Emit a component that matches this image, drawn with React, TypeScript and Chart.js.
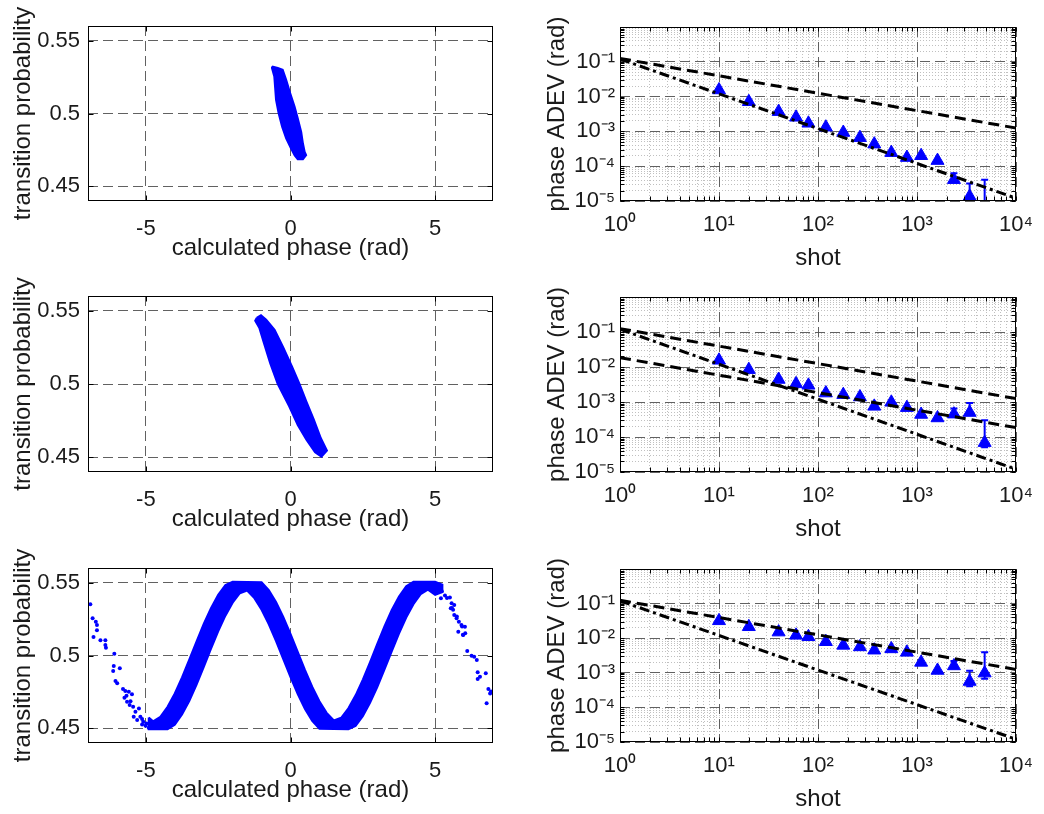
import React, { useEffect, useRef } from 'react';
import { Chart, registerables } from 'chart.js';

Chart.register(...registerables);

const W = 1044;
const H = 814;
const FONT_FAMILY = "'Liberation Sans', Arial, Helvetica, sans-serif";
const TICK_FONT = { family: FONT_FAMILY, size: 22 };
const TITLE_FONT = { family: FONT_FAMILY, size: 24 };
const TEXT = '#1a1a1a';
const BLUE = '#0000ff';
const GRID_MAJOR = 'rgba(80,80,80,0.9)';
const GRID_MINOR = 'rgba(150,150,150,0.6)';
const MAJOR_DASH = [10, 5];
const MINOR_DASH = [1, 2];

// ---------- left column: axes ----------
const phaseRange = [-7, 7];
const probRange = [0.44, 0.56];
const phaseTicks = [-5, 0, 5];
const probTicks = [0.45, 0.5, 0.55];

// ---------- right column: axes ----------
const shotRange = [1, 10000];
const adevRange = [1e-5, 1];
const shotMajorTicks = [1, 10, 100, 1000, 10000];
const adevMajorTicks = [1e-5, 1e-4, 1e-3, 1e-2, 1e-1];
const minorMultipliers = [2, 3, 4, 5, 6, 7, 8, 9];
const shotDecades = [1, 10, 100, 1000];
const adevDecades = [1e-5, 1e-4, 1e-3, 1e-2, 1e-1];
const shotMinorTicks = shotDecades.flatMap((d) => minorMultipliers.map((m) => m * d));
const adevMinorTicks = adevDecades.flatMap((d) => minorMultipliers.map((m) => m * d));

// ---------- left column: scatter clouds (outlines) ----------
const cloudTop: [number, number][] = [
  [-0.64, 0.5323], [-0.44, 0.5312], [-0.27, 0.530], [-0.15, 0.5231], [-0.01, 0.5139],
  [0.14, 0.5047], [0.25, 0.4967], [0.37, 0.4874], [0.43, 0.4794], [0.49, 0.4737],
  [0.54, 0.4714], [0.43, 0.4686], [0.25, 0.4686], [0.14, 0.4714], [0.02, 0.476],
  [-0.15, 0.4829], [-0.29, 0.4909], [-0.41, 0.5001], [-0.50, 0.5093], [-0.53, 0.5174],
  [-0.56, 0.5254], [-0.64, 0.5312],
];

const cloudMid: [number, number][] = [
  [-1.17, 0.5451], [-1.02, 0.5469], [-0.84, 0.5439], [-0.55, 0.537], [-0.25, 0.525],
  [0.05, 0.512], [0.31, 0.5], [0.55, 0.488], [0.8, 0.476], [1.05, 0.463],
  [1.26, 0.4546], [1.07, 0.4505], [0.85, 0.4535], [0.55, 0.462], [0.25, 0.472],
  [-0.05, 0.485], [-0.44, 0.5], [-0.7, 0.514], [-0.92, 0.528], [-1.08, 0.5383],
  [-1.22, 0.5432],
];

// bottom-left: dense band, upper edge left->right
const bandUpper: [number, number][] = [
  [-4.9, 0.4575], [-4.75, 0.4549], [-4.5, 0.458], [-4.25, 0.4648], [-4.0, 0.474],
  [-3.75, 0.485], [-3.5, 0.4971], [-3.25, 0.5096], [-3.0, 0.5216], [-2.75, 0.5325],
  [-2.5, 0.5416], [-2.25, 0.5483], [-2.0, 0.5505], [-1.0, 0.5503], [-0.75, 0.5448],
  [-0.5, 0.5367], [-0.25, 0.5265], [0, 0.5149], [0.25, 0.5025], [0.5, 0.4901],
  [0.75, 0.4786], [1.0, 0.4686], [1.25, 0.4607], [1.5, 0.4554], [1.75, 0.4573],
  [2.0, 0.4638], [2.25, 0.4727], [2.5, 0.4835], [2.75, 0.4954], [3.0, 0.5079],
  [3.25, 0.5201], [3.5, 0.5312], [3.75, 0.5405], [4.0, 0.5475], [4.25, 0.5505],
  [5.0, 0.5505], [5.25, 0.5485],
];
// lower edge right->left
const bandLower: [number, number][] = [
  [5.25, 0.5435], [5.0, 0.5415], [4.75, 0.5451], [4.5, 0.542], [4.25, 0.5352],
  [4.0, 0.526], [3.75, 0.515], [3.5, 0.5029], [3.25, 0.4904], [3.0, 0.4784],
  [2.75, 0.4675], [2.5, 0.4584], [2.25, 0.4517], [2.0, 0.4495], [1.0, 0.4497],
  [0.75, 0.4552], [0.5, 0.4633], [0.25, 0.4735], [0, 0.4851], [-0.25, 0.4975],
  [-0.5, 0.5099], [-0.75, 0.5214], [-1.0, 0.5314], [-1.25, 0.5393], [-1.5, 0.5446],
  [-1.75, 0.5427], [-2.0, 0.5362], [-2.25, 0.5273], [-2.5, 0.5165], [-2.75, 0.5046],
  [-3.0, 0.4921], [-3.25, 0.4799], [-3.5, 0.4688], [-3.75, 0.4595], [-4.0, 0.4525],
  [-4.25, 0.4495], [-4.9, 0.4495],
];

const strayLeft: [number, number][] = [
  [-6.92, 0.5352], [-6.84, 0.5256], [-6.73, 0.5232], [-6.69, 0.521], [-6.69, 0.5173],
  [-6.81, 0.5127], [-6.57, 0.5104], [-6.4, 0.5104], [-6.4, 0.5072], [-6.38, 0.5054],
  [-6.09, 0.5012], [-6.11, 0.4928], [-5.9, 0.4912], [-6.13, 0.4894], [-6.05, 0.4825],
  [-5.99, 0.4809], [-5.79, 0.477], [-5.71, 0.4756], [-5.48, 0.4734], [-5.74, 0.471],
  [-5.65, 0.4683], [-5.56, 0.466], [-5.44, 0.4648], [-5.36, 0.4614], [-5.24, 0.4637],
  [-5.19, 0.458], [-5.3, 0.4557], [-5.09, 0.4545], [-5.13, 0.4527], [-5.01, 0.4518],
  [-4.9, 0.4504], [-5.42, 0.458], [-5.13, 0.4564], [-4.98, 0.4534], [-5.53, 0.4687],
  [-5.67, 0.4724], [-5.59, 0.4751],
];

const strayRight: [number, number][] = [
  [5.2, 0.5393], [5.34, 0.5411], [5.51, 0.5397], [5.57, 0.5358], [5.66, 0.5347],
  [5.62, 0.5313], [5.54, 0.5324], [5.66, 0.5278], [5.74, 0.5255], [5.82, 0.5232],
  [5.91, 0.5209], [6.03, 0.5198], [5.8, 0.5163], [5.97, 0.5141], [6.11, 0.5031],
  [6.26, 0.4999], [6.35, 0.4992], [6.44, 0.4969], [6.47, 0.4885], [6.75, 0.4878],
  [6.55, 0.4855], [6.47, 0.4839], [6.84, 0.477], [6.9, 0.474], [6.78, 0.4672],
  [5.23, 0.544], [5.41, 0.5394], [5.58, 0.5325], [5.75, 0.5268], [5.93, 0.5199],
  [6.04, 0.5153], [5.96, 0.5142], [6.93, 0.4753],
];

// ---------- right column: Allan deviation ----------
const shots = [10, 20, 40, 60, 80, 120, 180, 265, 370, 550, 790, 1100, 1610, 2360, 3400, 4820];
const adevTop = [0.0155, 0.0071, 0.0037, 0.00254, 0.00171, 0.00132, 0.00093, 0.00066, 0.00043, 0.000245, 0.000177, 0.0002, 0.000145, 0.000041, 0.0000135, 0.000005];
const errHiTop = [null, null, null, null, null, null, null, null, null, null, null, null, null, 0.000063, 0.000032, 0.000041];
const errLoTop = [null, null, null, null, null, null, null, null, null, null, null, null, null, null, null, 0.000003];
const adevMid = [0.0155, 0.0084, 0.0044, 0.0033, 0.003, 0.0018, 0.00162, 0.00139, 0.00075, 0.00098, 0.00069, 0.00044, 0.00035, 0.00045, 0.0005, 0.000069];
const errHiMid = [null, null, null, null, null, null, null, null, null, null, null, null, null, 0.00065, 0.00093, 0.0003];
const errLoMid = [null, null, null, null, null, null, null, null, null, null, null, null, null, null, null, 0.000051];
const adevBot = [0.0318, 0.0214, 0.015, 0.0121, 0.011, 0.0079, 0.0062, 0.0056, 0.0045, 0.0049, 0.0039, 0.002, 0.00117, 0.00158, 0.00056, 0.00098];
const errHiBot = [null, null, null, null, null, null, null, null, null, null, null, null, null, 0.0022, 0.00115, 0.0039];
const errLoBot = [null, null, null, null, null, null, null, null, null, null, null, null, null, null, 0.00041, 0.00067];

const guideShots = [1, 10000];
const shotNoiseLine = [0.125, 0.00125];
const projectionLine = [0.12, 0.000012];
const lowerNoiseLine = [0.0185, 0.000185];

// ---------- layout ----------
const L_YW = 79;
const L_XH = 62;
const R_YW = 77;
const R_XH = 72;
const leftAreas = [
  { l: 88, r: 493, t: 26, b: 201 },
  { l: 88, r: 493, t: 296, b: 472 },
  { l: 88, r: 493, t: 568, b: 743 },
];
const rightAreas = [
  { l: 620, r: 1024, t: 27, b: 201 },
  { l: 620, r: 1024, t: 297, b: 472 },
  { l: 620, r: 1024, t: 569, b: 742 },
];

const SUP: Record<string, string> = {
  '-': '\u207B', '0': '\u2070', '1': '\u00B9', '2': '\u00B2', '3': '\u00B3', '4': '\u2074',
  '5': '\u2075', '6': '\u2076', '7': '\u2077', '8': '\u2078', '9': '\u2079',
};
const pow10Label = (v: number) =>
  '10' + String(Math.round(Math.log10(v))).split('').map((c) => SUP[c] || c).join('');

const toPts = (arr: [number, number][]) => arr.map(([x, y]) => ({ x, y }));
const closed = (arr: [number, number][]) => toPts([...arr, arr[0]]);

const boxPlugin = {
  id: 'matlabBox',
  afterDatasetsDraw(chart: any, _args: any, opts: any) {
    const { ctx, chartArea: a } = chart;
    const L = Math.round(a.left) + 0.5;
    const R = Math.round(a.right) - 0.5;
    const T = Math.round(a.top) + 0.5;
    const B = Math.round(a.bottom) - 0.5;
    const len = (opts && opts.tickLen) || 4;
    ctx.save();
    ctx.setLineDash([]);
    ctx.strokeStyle = '#000';
    ctx.lineWidth = 1;
    ctx.beginPath();
    Object.values(chart.scales).forEach((s: any) => {
      (s.ticks || []).forEach((t: any) => {
        const p = Math.round(s.getPixelForValue(t.value)) + 0.5;
        if (s.isHorizontal()) {
          ctx.moveTo(p, B); ctx.lineTo(p, B - len);
          ctx.moveTo(p, T); ctx.lineTo(p, T + len);
        } else {
          ctx.moveTo(L, p); ctx.lineTo(L + len, p);
          ctx.moveTo(R, p); ctx.lineTo(R - len, p);
        }
      });
    });
    ctx.stroke();
    ctx.strokeRect(L, T, R - L, B - T);
    ctx.restore();
  },
};

const errorBarPlugin = {
  id: 'errorBars',
  beforeDatasetsDraw(chart: any) {
    const { ctx, chartArea: a } = chart;
    const xs = chart.scales.x;
    const ys = chart.scales.y;
    ctx.save();
    ctx.beginPath();
    ctx.rect(a.left, a.top, a.right - a.left, a.bottom - a.top);
    ctx.clip();
    ctx.strokeStyle = BLUE;
    ctx.lineWidth = 2;
    ctx.setLineDash([]);
    chart.data.datasets.forEach((ds: any) => {
      if (!ds.errHi) return;
      ds.data.forEach((p: any, i: number) => {
        const hi = ds.errHi[i];
        const lo = ds.errLo ? ds.errLo[i] : null;
        if (hi == null && lo == null) return;
        const px = xs.getPixelForValue(p.x);
        const yh = ys.getPixelForValue(hi == null ? p.y : hi);
        const yl = ys.getPixelForValue(lo == null ? p.y : lo);
        ctx.beginPath();
        ctx.moveTo(px, yh); ctx.lineTo(px, yl);
        if (hi != null) { ctx.moveTo(px - 3.5, yh); ctx.lineTo(px + 3.5, yh); }
        if (lo != null) { ctx.moveTo(px - 3.5, yl); ctx.lineTo(px + 3.5, yl); }
        ctx.stroke();
      });
    });
    ctx.restore();
  },
};

function polygonDataset(arr: [number, number][]) {
  return {
    data: closed(arr),
    showLine: true,
    fill: 'shape',
    backgroundColor: BLUE,
    borderColor: BLUE,
    borderWidth: 2,
    pointRadius: 0,
    tension: 0,
  };
}

function dotsDataset(arr: [number, number][]) {
  return {
    data: toPts(arr),
    showLine: false,
    pointRadius: 2,
    pointBorderWidth: 0,
    backgroundColor: BLUE,
    borderColor: BLUE,
  };
}

function leftConfig(area: any, datasets: any[]) {
  return {
    type: 'scatter',
    data: { datasets },
    options: {
      responsive: false,
      animation: false,
      events: [],
      layout: { padding: { left: area.l - L_YW, right: W - area.r, top: area.t, bottom: H - area.b - L_XH } },
      plugins: { legend: { display: false }, tooltip: { enabled: false }, matlabBox: { tickLen: 5 } },
      scales: {
        x: {
          type: 'linear',
          min: phaseRange[0],
          max: phaseRange[1],
          afterBuildTicks: (s: any) => { s.ticks = phaseTicks.map((v) => ({ value: v })); },
          afterFit: (s: any) => { s.height = L_XH; },
          grid: { color: GRID_MAJOR, lineWidth: 1, drawTicks: false },
          border: { display: false, dash: MAJOR_DASH },
          ticks: { font: TICK_FONT, color: TEXT, padding: 15, autoSkip: false, maxRotation: 0, callback: (v: any) => String(v) },
          title: { display: true, text: 'calculated phase (rad)', font: TITLE_FONT, color: TEXT, padding: 0 },
        },
        y: {
          type: 'linear',
          min: probRange[0],
          max: probRange[1],
          afterBuildTicks: (s: any) => { s.ticks = probTicks.map((v) => ({ value: v })); },
          afterFit: (s: any) => { s.width = L_YW; },
          grid: { color: GRID_MAJOR, lineWidth: 1, drawTicks: false },
          border: { display: false, dash: MAJOR_DASH },
          ticks: { font: TICK_FONT, color: TEXT, padding: 8, autoSkip: false, callback: (v: any) => String(v) },
          title: { display: true, text: 'transition probability', font: TITLE_FONT, color: TEXT, padding: 0 },
        },
      },
    },
    plugins: [boxPlugin],
  };
}

function lineDataset(ys: number[], dash: number[]) {
  return {
    data: guideShots.map((x, i) => ({ x, y: ys[i] })),
    showLine: true,
    fill: false,
    borderColor: '#000',
    borderWidth: 3,
    borderDash: dash,
    pointRadius: 0,
  };
}

function triangleDataset(vals: number[], hi: any[], lo: any[]) {
  return {
    data: shots.map((x, i) => ({ x, y: vals[i] })),
    showLine: false,
    pointStyle: 'triangle',
    pointRadius: 7.5,
    pointBorderWidth: 1,
    backgroundColor: BLUE,
    borderColor: BLUE,
    clip: 0,
    errHi: hi,
    errLo: lo,
  };
}

function rightConfig(area: any, datasets: any[]) {
  return {
    type: 'scatter',
    data: { datasets },
    options: {
      responsive: false,
      animation: false,
      events: [],
      layout: { padding: { left: area.l - R_YW, right: W - area.r, top: area.t, bottom: H - area.b - R_XH } },
      plugins: { legend: { display: false }, tooltip: { enabled: false }, matlabBox: { tickLen: 4 } },
      scales: {
        xMinor: {
          type: 'logarithmic',
          position: 'bottom',
          min: shotRange[0],
          max: shotRange[1],
          afterBuildTicks: (s: any) => { s.ticks = shotMinorTicks.map((v) => ({ value: v })); },
          afterFit: (s: any) => { s.height = 0; },
          ticks: { display: false },
          grid: { color: GRID_MINOR, lineWidth: 1, drawTicks: false },
          border: { display: false, dash: MINOR_DASH },
        },
        yMinor: {
          type: 'logarithmic',
          position: 'left',
          min: adevRange[0],
          max: adevRange[1],
          afterBuildTicks: (s: any) => { s.ticks = adevMinorTicks.map((v) => ({ value: v })); },
          afterFit: (s: any) => { s.width = 0; },
          ticks: { display: false },
          grid: { color: GRID_MINOR, lineWidth: 1, drawTicks: false },
          border: { display: false, dash: MINOR_DASH },
        },
        x: {
          type: 'logarithmic',
          position: 'bottom',
          min: shotRange[0],
          max: shotRange[1],
          afterBuildTicks: (s: any) => { s.ticks = shotMajorTicks.map((v) => ({ value: v })); },
          afterFit: (s: any) => { s.height = R_XH; },
          grid: { color: GRID_MAJOR, lineWidth: 1, drawTicks: false },
          border: { display: false, dash: MAJOR_DASH },
          ticks: { font: TICK_FONT, color: TEXT, padding: 11, autoSkip: false, maxRotation: 0, callback: (v: any) => pow10Label(Number(v)) },
          title: { display: true, text: 'shot', font: TITLE_FONT, color: TEXT, padding: 0 },
        },
        y: {
          type: 'logarithmic',
          position: 'left',
          min: adevRange[0],
          max: adevRange[1],
          afterBuildTicks: (s: any) => { s.ticks = adevMajorTicks.map((v) => ({ value: v })); },
          afterFit: (s: any) => { s.width = R_YW; },
          grid: { color: GRID_MAJOR, lineWidth: 1, drawTicks: false },
          border: { display: false, dash: MAJOR_DASH },
          ticks: { font: TICK_FONT, color: TEXT, padding: 5, autoSkip: false, callback: (v: any) => pow10Label(Number(v)) },
          title: { display: true, text: 'phase ADEV (rad)', font: TITLE_FONT, color: TEXT, padding: 0 },
        },
      },
    },
    plugins: [errorBarPlugin, boxPlugin],
  };
}

const DASH = [11, 6];
const DASH_DOT = [10, 4, 3, 4];

const makers = [
  () => leftConfig(leftAreas[0], [polygonDataset(cloudTop)]),
  () => leftConfig(leftAreas[1], [polygonDataset(cloudMid)]),
  () => leftConfig(leftAreas[2], [
    polygonDataset([...bandUpper, ...bandLower]),
    dotsDataset(strayLeft),
    dotsDataset(strayRight),
  ]),
  () => rightConfig(rightAreas[0], [
    lineDataset(shotNoiseLine, DASH),
    lineDataset(projectionLine, DASH_DOT),
    triangleDataset(adevTop, errHiTop, errLoTop),
  ]),
  () => rightConfig(rightAreas[1], [
    lineDataset(shotNoiseLine, DASH),
    lineDataset(lowerNoiseLine, DASH),
    lineDataset(projectionLine, DASH_DOT),
    triangleDataset(adevMid, errHiMid, errLoMid),
  ]),
  () => rightConfig(rightAreas[2], [
    lineDataset(shotNoiseLine, DASH),
    lineDataset(projectionLine, DASH_DOT),
    triangleDataset(adevBot, errHiBot, errLoBot),
  ]),
];

function ChartCanvas({ make }: { make: () => any }) {
  const ref = useRef<HTMLCanvasElement | null>(null);
  useEffect(() => {
    if (!ref.current) return;
    const chart = new Chart(ref.current, make());
    return () => chart.destroy();
  }, [make]);
  return (
    <canvas
      ref={ref}
      width={W}
      height={H}
      style={{ position: 'absolute', left: 0, top: 0, width: W, height: H }}
    />
  );
}

export default function App() {
  return (
    <div style={{ position: 'absolute', left: 0, top: 0, width: W, height: H, background: '#fff', overflow: 'hidden' }}>
      {makers.map((m, i) => (
        <ChartCanvas key={i} make={m} />
      ))}
    </div>
  );
}
